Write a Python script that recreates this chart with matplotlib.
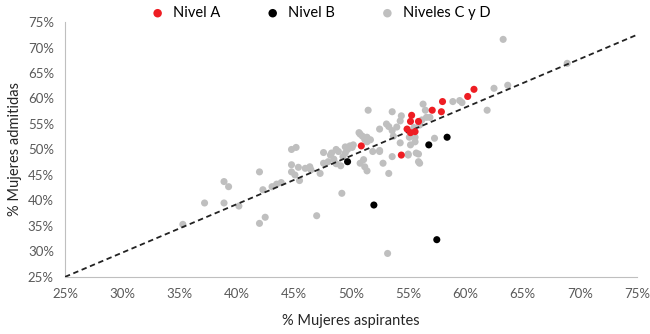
import matplotlib
matplotlib.use("Agg")
import matplotlib.pyplot as plt
import numpy as np
from matplotlib.ticker import FuncFormatter

plt.rcParams['font.family'] = ['Lato', 'DejaVu Sans']

# Nivel A
a_x = [60.75, 60.2, 58.0, 57.1, 57.9, 55.3, 55.2, 55.9, 54.9, 55.2, 55.6, 50.9, 54.4]
a_y = [61.8, 60.4, 59.4, 57.7, 57.4, 56.7, 55.5, 55.5, 54.0, 53.3, 53.5, 50.7, 48.9]

# Nivel B
b_x = [58.4, 56.8, 49.7, 52.0, 57.5]
b_y = [52.4, 50.9, 47.6, 39.1, 32.3]

# Niveles C y D
cd_x = [63.3, 62.5, 63.7, 61.9, 68.9, 58.9, 59.5, 59.7, 56.3, 56.5,
        51.5, 53.6, 54.4, 54.3, 53.1, 53.3, 52.5, 56.6, 56.9, 56.2,
        53.6, 54.0, 53.7, 55.1, 55.6, 51.4, 50.8, 57.3, 56.0, 55.5,
        51.9, 52.5, 50.7, 51.0, 51.2, 51.4, 50.2, 50.1, 49.7, 49.5,
        49.3, 48.7, 48.9, 48.2, 47.6, 50.8, 51.2, 51.4, 52.8, 53.3,
        53.6, 55.0, 55.7, 55.9, 56.0, 49.2, 47.0, 44.8, 45.2, 44.8,
        45.4, 44.8, 45.1, 45.5, 43.9, 43.5, 43.1, 46.0, 46.4, 46.5,
        47.3, 47.6, 48.0, 48.5, 48.7, 49.1, 48.3, 49.5, 49.9, 51.7,
        51.1, 42.0, 38.9, 39.3, 42.3, 37.2, 38.9, 40.2, 42.0, 42.5,
        35.3, 53.2, 55.6, 55.2, 54.3, 55.0, 55.9, 52.5, 56.0]
cd_y = [71.6, 62.0, 62.6, 57.7, 66.9, 59.4, 59.6, 59.2, 58.9, 57.7,
        57.7, 57.4, 56.6, 55.6, 55.0, 54.5, 54.0, 56.3, 56.3, 55.8,
        53.7, 54.4, 52.6, 52.4, 52.4, 52.4, 53.0, 52.2, 55.0, 54.3,
        49.6, 49.6, 53.3, 52.6, 52.0, 51.5, 50.9, 50.4, 50.0, 49.3,
        48.6, 50.0, 49.6, 48.9, 49.4, 47.3, 46.6, 45.8, 47.3, 45.3,
        48.6, 48.9, 49.3, 47.6, 47.3, 41.4, 37.0, 50.0, 50.4, 47.0,
        46.5, 45.6, 45.0, 43.9, 43.5, 43.2, 42.7, 46.3, 46.6, 46.0,
        45.3, 47.3, 47.6, 48.1, 47.2, 46.8, 49.3, 50.5, 50.7, 51.9,
        48.0, 45.6, 43.7, 42.7, 42.1, 39.5, 39.5, 38.9, 35.5, 36.7,
        35.3, 29.6, 51.5, 50.9, 51.3, 49.1, 49.1, 49.8, 54.8]

# dashed reference line
line_x = [25, 75]
line_y = [25, 72.5]

ticks = [25, 30, 35, 40, 45, 50, 55, 60, 65, 70, 75]

fig = plt.figure(figsize=(6.5, 3.34), dpi=100)
ax = fig.add_axes([0.1, 0.171, 0.88, 0.763])

ax.plot(line_x, line_y, color='#222222', linestyle=(0, (3, 2)), linewidth=1.3, zorder=3)
ax.scatter(cd_x, cd_y, s=26, color='#bfbfbf', edgecolors='none', label='Niveles C y D', zorder=2)
ax.scatter(a_x, a_y, s=26, color='#ee1d23', edgecolors='none', label='Nivel A', zorder=4)
ax.scatter(b_x, b_y, s=26, color='#000000', edgecolors='none', label='Nivel B', zorder=4)

ax.set_xlim(25, 75)
ax.set_ylim(25, 75)
ax.set_xticks(ticks)
ax.set_yticks(ticks)
pct = FuncFormatter(lambda v, p: '%d%%' % v)
ax.xaxis.set_major_formatter(pct)
ax.yaxis.set_major_formatter(pct)
ax.tick_params(length=0, labelsize=9.5, colors='#595959', pad=8)

for s in ['top', 'right']:
    ax.spines[s].set_visible(False)
for s in ['left', 'bottom']:
    ax.spines[s].set_color('#bfbfbf')

ax.set_xlabel('% Mujeres aspirantes', fontsize=10.5, color='#262626', labelpad=10)
ax.set_ylabel('% Mujeres admitidas', fontsize=10.5, color='#262626', labelpad=4)

handles, labels = ax.get_legend_handles_labels()
order = [1, 2, 0]
ax.legend([handles[i] for i in order], [labels[i] for i in order],
          loc='lower center', bbox_to_anchor=(0.44, 0.985), ncol=3, frameon=False,
          fontsize=10.5, handletextpad=0.05, columnspacing=2.6, markerscale=1.2,
          borderaxespad=0)

fig.savefig('out.png', dpi=100)
